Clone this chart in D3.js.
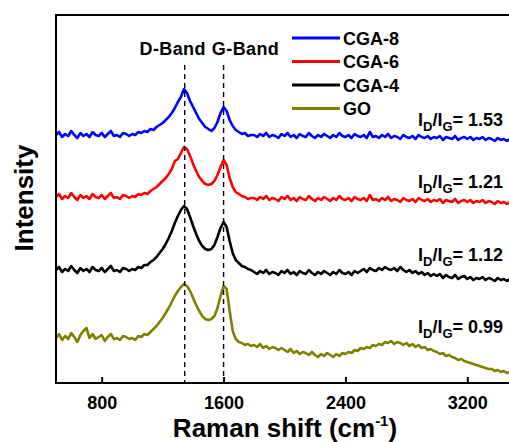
<!DOCTYPE html>
<html>
<head>
<meta charset="utf-8">
<script src="https://cdn.jsdelivr.net/npm/d3@7"></script>
<style>
  html, body { margin: 0; padding: 0; background: #fff; }
  svg { display: block; font-family: "Liberation Sans", Arial, sans-serif; font-weight: bold; }
</style>
</head>
<body>
<svg id="chart" width="509" height="442"></svg>
<script>
// --- data (a.u. = height above the x axis) ---
const seriesNames = ["CGA-8", "CGA-6", "CGA-4", "GO"];
const seriesColors = ["#0000ff", "#ff0000", "#000000", "#808000"];
const ratioLabels = ["1.53", "1.21", "1.12", "0.99"];
const xTicks = [800, 1600, 2400, 3200];
const bandNames = ["D-Band", "G-Band"];
const bandShifts = [1345, 1600];

// spectra sampled every 20 cm-1 from 500 to 3500
const shifts = d3.range(500, 3501, 20);

const cga8 = [
  248,251,246,249,247,252,248,245,250,247,249,246,251,248,247,250,246,249,252,247,248,246,250,249,247,
  249,248,251,250,252,251,254,253,256,258,
  260,263,266,270,275,281,286,
  294,290,282,276,270,264,260,256,254,252,255,261,270,276,272,263,257,253,251,249,250,247,248,
  248,246,249,247,250,246,248,247,245,249,
  247,250,246,248,245,249,247,246,250,247,
  245,248,246,249,247,245,248,246,250,247,
  246,248,245,249,247,246,248,245,251,246,
  247,245,248,246,249,245,247,246,244,248,
  246,245,247,244,248,246,245,247,244,246,
  245,247,243,246,245,244,247,243,245,246,
  244,246,243,245,244,246,243,245,244,242,
  245,243,244,242,244,243
];

const cga6 = [
  186,189,184,187,185,190,186,183,188,185,187,184,189,186,185,188,184,187,190,185,186,184,188,187,185,
  187,186,189,188,190,189,192,194,196,199,
  202,205,209,214,222,224,230,
  236,234,227,219,212,206,202,199,198,199,202,208,216,223,218,205,196,191,189,187,186,184,185,
  185,183,186,184,187,183,185,184,182,186,
  184,187,183,185,182,186,184,183,187,184,
  182,185,183,186,184,182,185,183,187,184,
  183,185,182,186,184,183,185,182,188,183,
  184,182,185,183,186,182,184,183,181,185,
  183,182,184,181,185,183,182,184,181,183,
  182,184,180,183,182,181,184,180,182,183,
  181,183,180,182,181,183,180,182,181,179,
  182,180,181,179,181,180
];

const cga4 = [
  113,116,111,114,112,117,113,110,115,112,114,111,116,113,112,115,111,114,117,112,113,111,115,114,112,
  114,113,116,115,118,118,121,123,126,130,
  134,139,145,152,160,167,173,
  177,174,166,157,149,142,137,134,133,134,138,146,155,161,156,142,130,123,120,117,116,114,113,
  111,109,112,110,113,109,111,110,108,112,
  110,113,109,111,108,112,110,109,113,110,
  108,111,109,112,110,108,111,109,113,110,
  109,111,108,112,110,112,114,111,115,113,
  112,115,113,116,114,113,115,112,116,113,
  111,113,110,112,109,111,108,110,107,109,
  107,109,105,108,106,105,108,104,106,107,
  104,106,103,105,104,106,103,105,104,102,
  105,103,104,102,104,103
];

const go = [
  45,49,43,47,44,50,46,41,48,52,55,45,49,44,46,48,42,46,49,44,45,43,47,46,44,
  45,43,47,46,49,48,51,54,57,61,
  65,70,75,81,87,92,96,
  99,97,92,85,78,72,67,64,63,64,67,75,87,97,94,72,52,44,41,40,38,39,37,
  38,36,39,35,37,34,36,35,33,35,
  33,31,34,30,32,29,31,30,28,31,
  28,26,29,27,30,28,26,29,27,30,
  29,31,30,33,32,35,34,36,35,38,
  37,39,38,41,40,42,39,41,40,38,
  40,37,39,36,38,35,36,33,34,32,
  31,29,30,27,28,26,25,23,24,22,
  21,20,19,18,17,16,15,14,14,12,
  13,11,12,10,11,10
];

const seriesValues = [cga8, cga6, cga4, go];

// --- layout ---
const svg = d3.select("#chart");
const plot = { left: 56, right: 513, top: 15, bottom: 383 };

const x = d3.scaleLinear().domain([500, 3500]).range([plot.left, plot.right]);
const y = d3.scaleLinear().domain([0, 368]).range([plot.bottom, plot.top]);

svg.append("clipPath").attr("id", "clip")
  .append("rect")
  .attr("x", plot.left).attr("y", plot.top)
  .attr("width", plot.right - plot.left).attr("height", plot.bottom - plot.top);

// spectra
const line = d3.line()
  .x((d, i) => x(shifts[i]))
  .y(d => y(d));

const lines = svg.append("g").attr("clip-path", "url(#clip)");
seriesValues.forEach((vals, k) => {
  lines.append("path")
    .datum(vals)
    .attr("fill", "none")
    .attr("stroke", seriesColors[k])
    .attr("stroke-width", 2.6)
    .attr("stroke-linejoin", "round")
    .attr("d", line);
});

// dashed band markers
svg.append("g").selectAll("line")
  .data(bandShifts)
  .join("line")
  .attr("x1", d => x(d)).attr("x2", d => x(d))
  .attr("y1", 65).attr("y2", plot.bottom)
  .attr("stroke", "#000")
  .attr("stroke-width", 1.4)
  .attr("stroke-dasharray", "5,4");

svg.append("g").selectAll("text")
  .data(bandNames)
  .join("text")
  .attr("x", (d, i) => x(bandShifts[i]) + (i === 0 ? -12 : 22))
  .attr("y", 55)
  .attr("text-anchor", "middle")
  .attr("font-size", 18)
  .attr("letter-spacing", 0.4)
  .text(d => d);

// frame
svg.append("rect")
  .attr("x", plot.left).attr("y", plot.top)
  .attr("width", plot.right - plot.left).attr("height", plot.bottom - plot.top)
  .attr("fill", "none")
  .attr("stroke", "#000")
  .attr("stroke-width", 2);

// x axis, ticks pointing inward
const xAxis = d3.axisBottom(x)
  .tickValues(xTicks)
  .tickSizeInner(-6)
  .tickSizeOuter(0)
  .tickPadding(13)
  .tickFormat(d3.format("d"));

const gx = svg.append("g")
  .attr("transform", `translate(0,${plot.bottom})`)
  .call(xAxis);
gx.select(".domain").remove();
gx.selectAll(".tick line").attr("stroke", "#000").attr("stroke-width", 2);
gx.selectAll(".tick text")
  .attr("font-size", 18)
  .attr("font-weight", "bold")
  .attr("font-family", "Liberation Sans, Arial, sans-serif")
  .attr("fill", "#000");

// axis titles
const xTitle = svg.append("text")
  .attr("x", 285)
  .attr("y", 437)
  .attr("text-anchor", "middle")
  .attr("font-size", 26);
xTitle.append("tspan").text("Raman shift (cm");
xTitle.append("tspan").attr("font-size", 15).attr("dy", -11).text("-1");
xTitle.append("tspan").attr("dy", 11).text(")");

svg.append("text")
  .attr("transform", "translate(33,198) rotate(-90)")
  .attr("text-anchor", "middle")
  .attr("font-size", 26)
  .text("Intensity");

// legend
const legend = svg.append("g");
seriesNames.forEach((name, k) => {
  const ly = 38 + k * 23.5;
  legend.append("line")
    .attr("x1", 292).attr("x2", 340)
    .attr("y1", ly).attr("y2", ly)
    .attr("stroke", seriesColors[k])
    .attr("stroke-width", 3);
  legend.append("text")
    .attr("x", 343)
    .attr("y", ly + 6.5)
    .attr("font-size", 18)
    .text(name);
});

// ID/IG ratios
const ratioY = [126, 188, 261, 333];
ratioLabels.forEach((r, k) => {
  const t = svg.append("text")
    .attr("x", 418)
    .attr("y", ratioY[k])
    .attr("font-size", 18);
  t.append("tspan").text("I");
  t.append("tspan").attr("font-size", 13).attr("dy", 5).text("D");
  t.append("tspan").attr("dy", -5).text("/I");
  t.append("tspan").attr("font-size", 13).attr("dy", 5).text("G");
  t.append("tspan").attr("dy", -5).text("= " + r);
});
</script>
</body>
</html>
